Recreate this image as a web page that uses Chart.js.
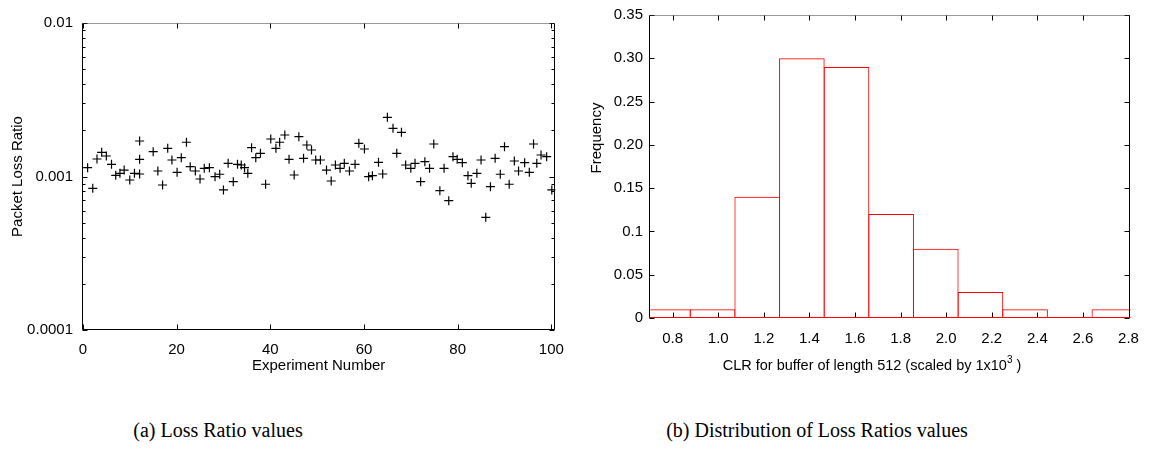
<!DOCTYPE html>
<html>
<head>
<meta charset="utf-8">
<title>Loss ratio</title>
<script src="https://cdn.jsdelivr.net/npm/chart.js@4.4.1/dist/chart.umd.min.js"></script>
<style>
  body { margin: 0; background: #fff; width: 1151px; height: 466px; position: relative; overflow: hidden; }
  #lossChart { position: absolute; left: 0; top: 0; }
  #histChart { position: absolute; left: 575px; top: 0; }
  .caption { position: absolute; top: 417px; width: 440px; text-align: center;
             font: 20px "Liberation Serif", "Times New Roman", serif; line-height: 26px; color: #000; }
</style>
</head>
<body>
<canvas id="lossChart" width="575" height="390"></canvas>
<canvas id="histChart" width="576" height="390"></canvas>
<div class="caption" style="left:-2px">(a) Loss Ratio values</div>
<div class="caption" style="left:597px">(b) Distribution of Loss Ratios values</div>
<script>
// left: packet loss ratio per experiment
const expNumber = [
  1.0, 2.1, 3.0, 4.0, 5.0, 6.1, 7.0, 7.9, 8.8, 10.0, 11.0, 12.1, 12.1, 12.1, 15.0, 16.0, 17.0, 18.1, 19.0, 20.1,
  21.0, 22.1, 22.9, 24.0, 25.0, 25.9, 27.0, 28.2, 29.2, 30.0, 31.0, 32.1, 33.0, 33.8, 34.5, 35.2, 36.0, 36.9, 37.9, 39.0,
  40.1, 41.2, 42.0, 43.1, 44.0, 45.1, 46.1, 47.1, 47.8, 48.8, 49.7, 50.7, 52.0, 53.0, 53.9, 54.9, 55.8, 56.9, 58.1, 58.9,
  60.1, 61.0, 61.8, 63.1, 64.0, 65.0, 66.2, 67.0, 68.0, 68.9, 70.0, 70.9, 72.1, 73.0, 74.0, 74.9, 76.2, 77.1, 78.1, 79.0,
  79.9, 81.0, 82.2, 82.9, 84.1, 85.0, 86.0, 87.0, 88.0, 89.1, 90.0, 91.0, 92.1, 93.0, 94.3, 95.3, 96.2, 96.9, 97.8, 99.0,
  100.1
];
const lossRatio = [
  0.001141, 0.000838, 0.001300, 0.001438, 0.001360, 0.001201, 0.001018, 0.001049, 0.001102, 0.000949,
  0.001049, 0.001703, 0.001294, 0.001038, 0.001451, 0.001086, 0.000880, 0.001526, 0.001281, 0.001065,
  0.001326, 0.001671, 0.001158, 0.001086, 0.000963, 0.001131, 0.001141, 0.000997, 0.001034, 0.000817,
  0.001219, 0.000925, 0.001201, 0.001188, 0.001141, 0.001049, 0.001540, 0.001326, 0.001416, 0.000890,
  0.001755, 0.001526, 0.001671, 0.001864, 0.001294, 0.001023, 0.001817, 0.001314, 0.001604, 0.001488,
  0.001281, 0.001281, 0.001102, 0.000935, 0.001188, 0.001131, 0.001219, 0.001086, 0.001201, 0.001645,
  0.001511, 0.000997, 0.001012, 0.001237, 0.001038, 0.002431, 0.002061, 0.001416, 0.001941, 0.001188,
  0.001131, 0.001219, 0.000925, 0.001249, 0.001131, 0.001628, 0.000808, 0.001131, 0.000696, 0.001346,
  0.001294, 0.001230, 0.001012, 0.000903, 0.001049, 0.001281, 0.000542, 0.000858, 0.001314, 0.001034,
  0.001564, 0.000890, 0.001262, 0.001086, 0.001230, 0.001065, 0.001628, 0.001219, 0.001381, 0.001346,
  0.000817
];
const expTicks = [0, 20, 40, 60, 80, 100];
const lossTicks = [0.0001, 0.001, 0.01];
const lossTickLabels = ['0.0001', '0.001', '0.01'];

// right: histogram of the loss ratios
const binCenters = [0.7790, 0.9749, 1.1708, 1.3667, 1.5626, 1.7585, 1.9544, 2.1503, 2.3462, 2.5421, 2.7380];
const frequency = [0.01, 0.01, 0.14, 0.30, 0.29, 0.12, 0.08, 0.03, 0.01, 0, 0.01];
const clrTicks = [0.8, 1.0, 1.2, 1.4, 1.6, 1.8, 2.0, 2.2, 2.4, 2.6, 2.8];
const clrTickLabels = ['0.8', '1.0', '1.2', '1.4', '1.6', '1.8', '2.0', '2.2', '2.4', '2.6', '2.8'];
const freqTicks = [0, 0.05, 0.1, 0.15, 0.2, 0.25, 0.3, 0.35];
const freqTickLabels = ['0', '0.05', '0.1', '0.15', '0.20', '0.25', '0.30', '0.35'];

const family = '"Liberation Sans", Arial, Helvetica, sans-serif';
const font = { family: family, size: 15 };
Chart.defaults.color = '#000';
Chart.defaults.font.family = family;

// minor ticks on the log axis (2..9 in each decade)
const minorLoss = [];
[0.0001, 0.001].forEach(d => { for (let k = 2; k <= 9; k++) minorLoss.push(d * k); });

// box round the plot with inward tick marks, like the matlab output
function framePlugin(opts) {
  return {
    id: 'frame',
    afterDatasetsDraw(chart) {
      const { ctx, chartArea: a, scales: { x, y } } = chart;
      const L = Math.floor(a.left) + 0.5, R = Math.floor(a.right) - 0.5;
      const T = Math.floor(a.top) + 0.5, B = Math.floor(a.bottom) - 0.5;
      ctx.save();
      ctx.lineWidth = 1;
      ctx.strokeStyle = '#000';
      ctx.beginPath();
      x.ticks.forEach(t => {
        const px = Math.round(x.getPixelForValue(t.value)) + 0.5;
        ctx.moveTo(px, B); ctx.lineTo(px, B - 5);
        ctx.moveTo(px, T); ctx.lineTo(px, T + 5);
      });
      y.ticks.forEach(t => {
        const py = Math.round(y.getPixelForValue(t.value)) + 0.5;
        ctx.moveTo(L, py); ctx.lineTo(L + 5, py);
        ctx.moveTo(R, py); ctx.lineTo(R - 5, py);
      });
      (opts.minorY || []).forEach(v => {
        const py = Math.round(y.getPixelForValue(v)) + 0.5;
        ctx.moveTo(L, py); ctx.lineTo(L + 3, py);
        ctx.moveTo(R, py); ctx.lineTo(R - 3, py);
      });
      ctx.stroke();

      ctx.beginPath();
      ctx.moveTo(L, T); ctx.lineTo(L, B);
      ctx.moveTo(R, T); ctx.lineTo(R, B);
      ctx.stroke();

      ctx.strokeStyle = opts.bottomColor || '#000';
      ctx.beginPath();
      ctx.moveTo(L, B); ctx.lineTo(R, B);
      ctx.stroke();

      ctx.strokeStyle = '#333';
      ctx.setLineDash([1, 1]);
      ctx.beginPath();
      ctx.moveTo(L, T); ctx.lineTo(R, T);
      ctx.stroke();
      ctx.restore();

      if (opts.extra) opts.extra(chart);
    }
  };
}

new Chart(document.getElementById('lossChart'), {
  type: 'scatter',
  data: {
    datasets: [{
      data: expNumber.map((n, i) => ({ x: n, y: lossRatio[i] })),
      pointStyle: 'cross',
      pointRadius: 4.5,
      borderColor: '#000',
      borderWidth: 1.2
    }]
  },
  options: {
    responsive: false,
    animation: false,
    events: [],
    devicePixelRatio: 1,
    layout: { padding: { top: 23, right: 18, bottom: 0, left: 0 } },
    plugins: { legend: { display: false }, tooltip: { enabled: false } },
    scales: {
      x: {
        type: 'linear', min: -0.2, max: 100.85, offset: false,
        afterBuildTicks: s => { s.ticks = expTicks.map(v => ({ value: v })); },
        afterFit: s => { s.height = 60; },
        grid: { display: false, drawTicks: false },
        border: { display: false },
        ticks: { font, padding: 11, autoSkip: false, maxRotation: 0, callback: v => String(v) },
        title: { display: true, text: 'Experiment Number', font, padding: { top: 0, bottom: 15 } }
      },
      y: {
        type: 'logarithmic', min: 0.0001, max: 0.01,
        afterBuildTicks: s => { s.ticks = lossTicks.map(v => ({ value: v })); },
        afterFit: s => { s.width = 82; },
        grid: { display: false, drawTicks: false },
        border: { display: false },
        ticks: { font, padding: 9, autoSkip: false, callback: (v, i) => lossTickLabels[i] },
        title: { display: true, text: 'Packet Loss Ratio', font, padding: { top: 9, bottom: 0 } }
      }
    }
  },
  plugins: [framePlugin({ minorY: minorLoss })]
});

// axis titles of the histogram sit a little off centre in the original, so draw them here
function histTitles(chart) {
  const ctx = chart.ctx;
  ctx.save();
  ctx.fillStyle = '#000';
  ctx.textBaseline = 'middle';

  ctx.font = '15px ' + family;
  ctx.save();
  ctx.translate(22, 138);
  ctx.rotate(-Math.PI / 2);
  ctx.textAlign = 'center';
  ctx.fillText('Frequency', 0, 0);
  ctx.restore();

  const main = 'CLR for buffer of length 512 (scaled by 1x10';
  const tail = ' )';
  ctx.font = '14.5px ' + family;
  const w1 = ctx.measureText(main).width;
  const w3 = ctx.measureText(tail).width;
  ctx.font = '10px ' + family;
  const w2 = ctx.measureText('3').width;
  let x0 = 297 - (w1 + w2 + w3) / 2;
  ctx.textAlign = 'left';
  ctx.font = '14.5px ' + family;
  ctx.fillText(main, x0, 366);
  ctx.font = '10px ' + family;
  ctx.fillText('3', x0 + w1, 360);
  ctx.font = '14.5px ' + family;
  ctx.fillText(tail, x0 + w1 + w2, 366);
  ctx.restore();
}

new Chart(document.getElementById('histChart'), {
  type: 'bar',
  data: {
    datasets: [{
      data: binCenters.map((c, i) => ({ x: c, y: frequency[i] })),
      backgroundColor: 'rgba(255,255,255,0)',
      borderColor: '#ff0000',
      borderWidth: 1,
      borderSkipped: false,
      // a hair wider than the bin so neighbouring edges fall on one pixel
      barPercentage: 1.022,
      categoryPercentage: 1
    }]
  },
  options: {
    responsive: false,
    animation: false,
    events: [],
    devicePixelRatio: 1,
    layout: { padding: { top: 12, right: 16, bottom: 0, left: 0 } },
    plugins: { legend: { display: false }, tooltip: { enabled: false } },
    scales: {
      x: {
        type: 'linear', min: 0.696, max: 2.809, offset: false,
        afterBuildTicks: s => { s.ticks = clrTicks.map(v => ({ value: v })); },
        afterFit: s => { s.height = 72; },
        grid: { display: false, drawTicks: false },
        border: { display: false },
        ticks: { font, padding: 12, autoSkip: false, maxRotation: 0, callback: (v, i) => clrTickLabels[i] }
      },
      y: {
        type: 'linear', min: 0, max: 0.35,
        afterBuildTicks: s => { s.ticks = freqTicks.map(v => ({ value: v })); },
        afterFit: s => { s.width = 74; },
        grid: { display: false, drawTicks: false },
        border: { display: false },
        ticks: { font, padding: 6, autoSkip: false, callback: (v, i) => freqTickLabels[i] }
      }
    }
  },
  plugins: [framePlugin({ bottomColor: '#ff0000', extra: histTitles })]
});
</script>
</body>
</html>
